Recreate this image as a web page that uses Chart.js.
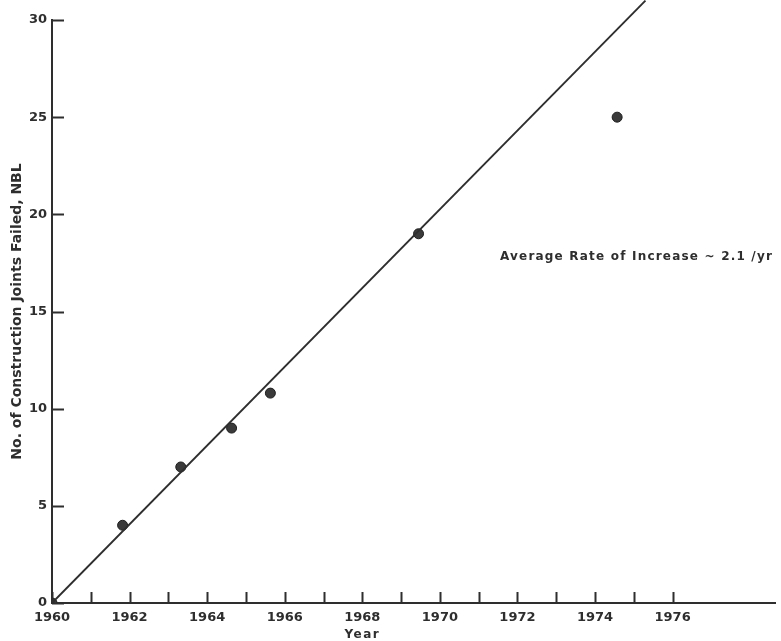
<!DOCTYPE html>
<html>
<head>
<meta charset="utf-8">
<script src="https://cdn.jsdelivr.net/npm/chart.js@4.4.0/dist/chart.umd.min.js"></script>
<style>
    html, body { margin: 0; padding: 0; background: #fff; }
    #wrap { width: 781px; height: 641px; }
</style>
</head>
<body>
<div id="wrap"><canvas id="jointsChart"></canvas></div>
<script>
const years = [1960, 1961.82, 1963.32, 1964.63, 1965.63, 1969.45, 1974.57];
const failed = [0, 4, 7, 9, 10.8, 19, 25];

// Fitted trend line, ends where it leaves the top of the figure
const fitYears = [1960, 1975.3];
const fitValues = [0, 31];

// Axis ticks
const tickYears = [1960, 1961, 1962, 1963, 1964, 1965, 1966, 1967, 1968,
                   1969, 1970, 1971, 1972, 1973, 1974, 1975, 1976];
const yTicks = [0, 5, 10, 15, 20, 25, 30];

const noteText = "Average Rate of Increase ~ 2.1 /yr";
const noteAt = { x: 1971.55, y: 17.8 };
const xTitleAt = 1968;

const ink = "#2e2e2e";

// ticks in this figure point into the plot, so draw them by hand
const insideTicks = {
    id: "insideTicks",
    afterDraw(chart) {
        const ctx = chart.ctx;
        const x = chart.scales.x;
        const y = chart.scales.y;
        const x0 = x.getPixelForValue(1960);
        const y0 = y.getPixelForValue(0);

        ctx.save();
        ctx.strokeStyle = ink;
        ctx.lineWidth = 2;
        ctx.beginPath();
        tickYears.forEach(function (v) {
            const px = Math.round(x.getPixelForValue(v)) + 0.5;
            ctx.moveTo(px, y0);
            ctx.lineTo(px, y0 - 11);
        });
        yTicks.forEach(function (v) {
            const py = Math.round(y.getPixelForValue(v)) + 0.5;
            ctx.moveTo(x0, py);
            ctx.lineTo(x0 + 12, py);
        });
        ctx.stroke();

        // annotation
        ctx.fillStyle = ink;
        ctx.font = "bold 12px 'DejaVu Sans'";
        ctx.letterSpacing = "1.2px";
        ctx.textAlign = "left";
        ctx.textBaseline = "middle";
        ctx.fillText(noteText, x.getPixelForValue(noteAt.x), y.getPixelForValue(noteAt.y));

        // x title sits under 1968 in the original
        ctx.letterSpacing = "1.5px";
        ctx.textAlign = "center";
        ctx.fillText("Year", x.getPixelForValue(xTitleAt), 635);
        ctx.restore();
    }
};

const tickFont = { family: "DejaVu Sans", size: 13, weight: "bold" };

new Chart(document.getElementById("jointsChart"), {
    data: {
        datasets: [
            {
                type: "line",
                data: fitYears.map(function (v, i) { return { x: v, y: fitValues[i] }; }),
                borderColor: ink,
                borderWidth: 1.8,
                pointRadius: 0,
                clip: false
            },
            {
                type: "scatter",
                data: years.map(function (v, i) { return { x: v, y: failed[i] }; }),
                backgroundColor: "#3a3a3a",
                borderColor: "#1e1e1e",
                borderWidth: 1,
                pointRadius: 5
            }
        ]
    },
    options: {
        responsive: true,
        maintainAspectRatio: false,
        animation: false,
        layout: { padding: { top: 20, right: 0, bottom: 0, left: 0 } },
        plugins: {
            legend: { display: false },
            tooltip: { enabled: false }
        },
        scales: {
            x: {
                type: "linear",
                min: 1960,
                max: 1978.64,
                afterBuildTicks: function (scale) {
                    scale.ticks = tickYears.map(function (v) { return { value: v }; });
                },
                afterFit: function (scale) { scale.height = 38; },
                ticks: {
                    autoSkip: false,
                    maxRotation: 0,
                    padding: 7,
                    color: ink,
                    font: tickFont,
                    callback: function (v) { return v % 2 === 0 ? String(v) : ""; }
                },
                grid: { display: false, drawTicks: false },
                border: { display: true, color: ink, width: 2 }
            },
            y: {
                min: 0,
                max: 30,
                afterBuildTicks: function (scale) {
                    scale.ticks = yTicks.map(function (v) { return { value: v }; });
                },
                afterFit: function (scale) { scale.width = 52; },
                ticks: {
                    padding: 5,
                    color: ink,
                    font: tickFont
                },
                grid: { display: false, drawTicks: false },
                border: { display: true, color: ink, width: 2 },
                title: {
                    display: true,
                    text: "No. of Construction Joints Failed, NBL",
                    color: ink,
                    font: { family: "DejaVu Sans", size: 14, weight: "bold" },
                    padding: { top: 9, bottom: 0 }
                }
            }
        }
    },
    plugins: [insideTicks]
});
</script>
</body>
</html>
